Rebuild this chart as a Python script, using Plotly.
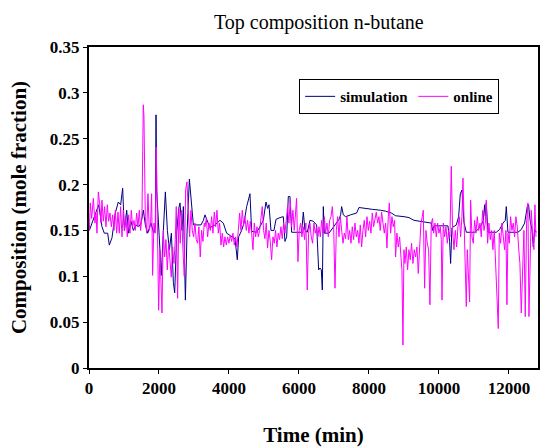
import plotly.graph_objects as go

# ---------------- data ----------------
sim_time = [10, 105, 200, 277, 371, 437, 534, 580, 657, 752, 837, 905, 962, 1010, 1077, 1130,
            1200, 1267, 1343, 1420, 1487, 1553, 1610, 1677, 1772, 1849, 1896, 1915, 1934, 1991,
            2030, 2067, 2125, 2182, 2240, 2297, 2354, 2411, 2449, 2506, 2563, 2601, 2659, 2697,
            2754, 2801, 2868, 2925, 2982, 3058, 3201, 3268, 3314, 3457, 3600, 3743, 3838, 3933,
            4076, 4171, 4238, 4276, 4362, 4428, 4505, 4600, 4648, 4790, 4885, 4981, 5057, 5105,
            5143, 5200, 5286, 5343, 5457, 5552, 5600, 5648, 5695, 5743, 5790, 5933, 6076, 6124,
            6171, 6238, 6314, 6409, 6505, 6562, 6600, 6638, 6667, 6695, 6724, 6857, 7000, 7143,
            7190, 7219, 7267, 7333, 7476, 7648, 7714, 7857, 8095, 8333, 8476, 8638, 8762, 9000,
            9143, 9286, 9476, 9714, 9781, 9819, 9860, 10257, 10305, 10333, 10371, 10495, 10562,
            10610, 10657, 10714, 10781, 11019, 11114, 11210, 11267, 11305, 11324, 11352, 11400,
            11638, 11733, 11829, 11895, 11924, 11971, 12257, 12352, 12448, 12524, 12562, 12600,
            12657, 12695, 12733, 12781]
sim_comp = [0.150, 0.160, 0.169, 0.178, 0.154, 0.147, 0.147, 0.134, 0.142, 0.169, 0.181, 0.178,
            0.196, 0.150, 0.172, 0.147, 0.160, 0.150, 0.156, 0.154, 0.158, 0.172, 0.156, 0.147,
            0.158, 0.147, 0.154, 0.276, 0.194, 0.147, 0.114, 0.101, 0.150, 0.192, 0.150, 0.129,
            0.147, 0.093, 0.082, 0.147, 0.174, 0.180, 0.150, 0.176, 0.074, 0.147, 0.206, 0.176,
            0.156, 0.156, 0.156, 0.161, 0.167, 0.153, 0.156, 0.161, 0.158, 0.147, 0.143, 0.141,
            0.118, 0.143, 0.150, 0.158, 0.176, 0.190, 0.149, 0.148, 0.154, 0.161, 0.181, 0.174,
            0.178, 0.150, 0.150, 0.162, 0.164, 0.165, 0.138, 0.143, 0.187, 0.187, 0.148, 0.148,
            0.148, 0.170, 0.150, 0.148, 0.161, 0.160, 0.156, 0.107, 0.109, 0.107, 0.085, 0.176,
            0.147, 0.147, 0.154, 0.162, 0.167, 0.176, 0.167, 0.165, 0.167, 0.169, 0.175, 0.174,
            0.173, 0.172, 0.171, 0.169, 0.166, 0.165, 0.164, 0.161, 0.160, 0.159, 0.158, 0.150,
            0.155, 0.155, 0.138, 0.114, 0.153, 0.156, 0.165, 0.190, 0.194, 0.159, 0.148, 0.148,
            0.151, 0.156, 0.161, 0.178, 0.166, 0.180, 0.148, 0.148, 0.151, 0.158, 0.161, 0.176,
            0.148, 0.148, 0.151, 0.158, 0.176, 0.178, 0.162, 0.151, 0.132, 0.151, 0.148]

online_time = [10, 38, 76, 124, 171, 200, 228, 266, 304, 342, 371, 409, 447, 485, 523, 561, 599,
               638, 676, 714, 752, 790, 828, 866, 904, 942, 980, 1018, 1056, 1094, 1133, 1171,
               1209, 1247, 1285, 1323, 1361, 1399, 1437, 1475, 1513, 1551, 1570, 1609, 1647, 1685,
               1723, 1761, 1789, 1818, 1856, 1894, 1923, 1951, 1989, 2027, 2056, 2085, 2123, 2161,
               2199, 2237, 2275, 2313, 2351, 2389, 2427, 2465, 2494, 2532, 2570, 2608, 2646, 2684,
               2722, 2761, 2799, 2837, 2875, 2913, 2951, 2989, 3027, 3065, 3103, 3141, 3179, 3218,
               3256, 3294,
               3314, 3352, 3390, 3428, 3466, 3504, 3542, 3580, 3618, 3657, 3695, 3733, 3771, 3809,
               3847, 3885, 3923, 3961, 3999, 4037, 4075, 4113, 4152, 4190, 4228, 4266, 4304, 4342,
               4380, 4418, 4456, 4494, 4532, 4570, 4608, 4647, 4685, 4723, 4761, 4799, 4837, 4875,
               4913, 4951, 4989, 5027, 5065, 5103, 5142, 5180, 5218, 5256, 5294, 5332, 5370, 5408,
               5446, 5484, 5522, 5560, 5599, 5637, 5675, 5713, 5751, 5789, 5827, 5865, 5903, 5932,
               5970, 6008, 6046, 6084, 6122, 6160, 6198, 6236, 6275, 6313, 6351, 6389, 6427, 6465,
               6503, 6541,
               6572, 6610, 6648, 6686, 6724, 6762, 6800, 6838, 6876, 6915, 6953, 6991, 7029, 7067,
               7105, 7143, 7181, 7219, 7257, 7295, 7333, 7371, 7410, 7448, 7486, 7524, 7562, 7600,
               7638, 7676, 7714, 7752, 7790, 7828, 7866, 7905, 7943, 7981, 8019, 8057, 8095, 8133,
               8171, 8209, 8247, 8285, 8323, 8361, 8400, 8438, 8476, 8514, 8552, 8581, 8619, 8657,
               8695, 8733, 8761, 8799, 8838, 8876, 8914, 8942, 8971, 9000, 9028, 9066, 9104, 9142,
               9180, 9218, 9256, 9295, 9333, 9371, 9409, 9447, 9485, 9523, 9552, 9590, 9628, 9666,
               9704, 9742, 9780, 9818,
               9848, 9886, 9924, 9962, 10000, 10038, 10067, 10086, 10124, 10162, 10200, 10238,
               10276, 10314, 10352, 10390, 10429, 10467, 10505, 10543, 10581, 10619, 10657, 10686,
               10714, 10752, 10781, 10809, 10848, 10876, 10905, 10943, 10981, 11019, 11057, 11095,
               11133, 11171, 11209, 11247, 11286, 11324, 11352, 11390, 11428, 11466, 11504, 11542,
               11580, 11618, 11657, 11695, 11723, 11761, 11799, 11838, 11876, 11914, 11942, 11971,
               12009, 12047, 12085, 12123, 12161, 12199, 12237, 12275, 12313, 12352, 12390, 12428,
               12466, 12504, 12542, 12571, 12609, 12637, 12675, 12713, 12742, 12771]
online_comp = [0.150, 0.180, 0.163, 0.185, 0.158, 0.169, 0.147, 0.192, 0.180, 0.158, 0.183, 0.160,
               0.176, 0.154, 0.178, 0.160, 0.169, 0.154, 0.167, 0.150, 0.172, 0.147, 0.170, 0.147,
               0.176, 0.143, 0.172, 0.150, 0.165, 0.143, 0.167, 0.147, 0.172, 0.154, 0.161, 0.150,
               0.169, 0.154, 0.172, 0.150, 0.165, 0.287, 0.275, 0.165, 0.147, 0.190, 0.150, 0.158,
               0.190, 0.101, 0.158, 0.147, 0.241, 0.150, 0.063, 0.129, 0.085, 0.060, 0.150, 0.121,
               0.140, 0.107, 0.136, 0.118, 0.099, 0.132, 0.114, 0.140, 0.176, 0.076, 0.174, 0.136,
               0.172, 0.129, 0.100, 0.194, 0.203, 0.172, 0.143, 0.172, 0.150, 0.143, 0.158, 0.140,
               0.136, 0.154, 0.121, 0.150, 0.138, 0.158,
               0.154, 0.163, 0.143, 0.158, 0.150, 0.165, 0.147, 0.170, 0.154, 0.172, 0.147, 0.158,
               0.134, 0.147, 0.132, 0.143, 0.134, 0.143, 0.136, 0.145, 0.138, 0.147, 0.134, 0.143,
               0.132, 0.150, 0.169, 0.150, 0.172, 0.156, 0.165, 0.150, 0.161, 0.147, 0.160, 0.147,
               0.129, 0.158, 0.143, 0.154, 0.143, 0.150, 0.167, 0.176, 0.150, 0.141, 0.158, 0.131,
               0.150, 0.138, 0.118, 0.143, 0.136, 0.150, 0.132, 0.147, 0.140, 0.154, 0.141, 0.158,
               0.147, 0.160, 0.176, 0.158, 0.183, 0.154, 0.172, 0.150, 0.169, 0.185, 0.116, 0.150,
               0.158, 0.143, 0.154, 0.140, 0.158, 0.085, 0.147, 0.158, 0.143, 0.136, 0.158, 0.147,
               0.154, 0.143,
               0.154, 0.143, 0.161, 0.147, 0.165, 0.147, 0.158, 0.143, 0.161, 0.165, 0.176, 0.154,
               0.087, 0.150, 0.165, 0.143, 0.165, 0.150, 0.136, 0.147, 0.141, 0.165, 0.140, 0.150,
               0.136, 0.154, 0.140, 0.158, 0.143, 0.150, 0.136, 0.156, 0.132, 0.150, 0.161, 0.143,
               0.165, 0.150, 0.160, 0.147, 0.169, 0.154, 0.163, 0.170, 0.158, 0.165, 0.150, 0.170,
               0.158, 0.147, 0.158, 0.131, 0.165, 0.180, 0.147, 0.165, 0.154, 0.161, 0.121, 0.147,
               0.132, 0.143, 0.121, 0.107, 0.025, 0.129, 0.114, 0.132, 0.107, 0.129, 0.118, 0.136,
               0.114, 0.129, 0.121, 0.132, 0.103, 0.136, 0.158, 0.165, 0.172, 0.087, 0.150, 0.136,
               0.129, 0.069, 0.158, 0.163,
               0.147, 0.158, 0.143, 0.158, 0.147, 0.154, 0.140, 0.074, 0.158, 0.143, 0.154, 0.136,
               0.150, 0.143, 0.220, 0.150, 0.129, 0.150, 0.132, 0.154, 0.165, 0.143, 0.165, 0.207,
               0.158, 0.114, 0.067, 0.129, 0.085, 0.072, 0.183, 0.143, 0.136, 0.161, 0.147, 0.165,
               0.150, 0.158, 0.143, 0.172, 0.150, 0.158, 0.183, 0.136, 0.158, 0.140, 0.150, 0.129,
               0.150, 0.118, 0.085, 0.043, 0.147, 0.136, 0.158, 0.143, 0.129, 0.150, 0.069, 0.147,
               0.136, 0.165, 0.150, 0.158, 0.143, 0.165, 0.154, 0.132, 0.114, 0.060, 0.121, 0.150,
               0.056, 0.158, 0.180, 0.056, 0.121, 0.172, 0.147, 0.129, 0.178, 0.143]

x_ticks = [0, 2000, 4000, 6000, 8000, 10000, 12000]
y_ticks = [0, 0.05, 0.1, 0.15, 0.2, 0.25, 0.3, 0.35]
y_tick_labels = ["0", "0.05", "0.1", "0.15", "0.2", "0.25", "0.3", "0.35"]

SERIF = "Liberation Serif, Times New Roman, serif"

fig = go.Figure()
fig.add_trace(go.Scatter(x=sim_time, y=sim_comp, mode="lines", name="simulation",
                         line=dict(color="#000080", width=1)))
fig.add_trace(go.Scatter(x=online_time, y=online_comp, mode="lines", name="online",
                         line=dict(color="#FF00FF", width=1)))

fig.update_layout(
    width=545, height=448,
    margin=dict(l=89, r=7, t=47, b=80),
    paper_bgcolor="white", plot_bgcolor="white",
    font=dict(family=SERIF, color="black"),
    title=dict(text="Top composition n-butane", x=0.585, xanchor="center", y=0.95, yanchor="middle",
               font=dict(family=SERIF, size=20, color="black")),
    legend=dict(orientation="h", x=0.468, y=0.9, xanchor="left", yanchor="top",
                bordercolor="black", borderwidth=1, bgcolor="white",
                font=dict(family=SERIF, size=15, color="black", weight="bold"),
                itemwidth=30, tracegroupgap=0),
    showlegend=True,
)
fig.update_xaxes(range=[0, 12830], tickvals=x_ticks, tickformat="d",
                 showline=True, linecolor="black", linewidth=2, mirror=True,
                 ticks="outside", ticklen=4, tickcolor="black", showgrid=False, zeroline=False,
                 tickfont=dict(family=SERIF, size=17, weight="bold"),
                 title=dict(text="Time (min)", standoff=30,
                            font=dict(family=SERIF, size=21, weight="bold")),
                 automargin=False)
fig.update_yaxes(range=[0, 0.35], tickvals=y_ticks, ticktext=y_tick_labels,
                 showline=True, linecolor="black", linewidth=2, mirror=True,
                 ticks="outside", ticklen=4, tickcolor="black", showgrid=False, zeroline=False,
                 tickfont=dict(family=SERIF, size=17, weight="bold"),
                 title=dict(text="Composition (mole fraction)", standoff=17,
                            font=dict(family=SERIF, size=21, weight="bold")),
                 automargin=False)

fig.write_html("out.html")
